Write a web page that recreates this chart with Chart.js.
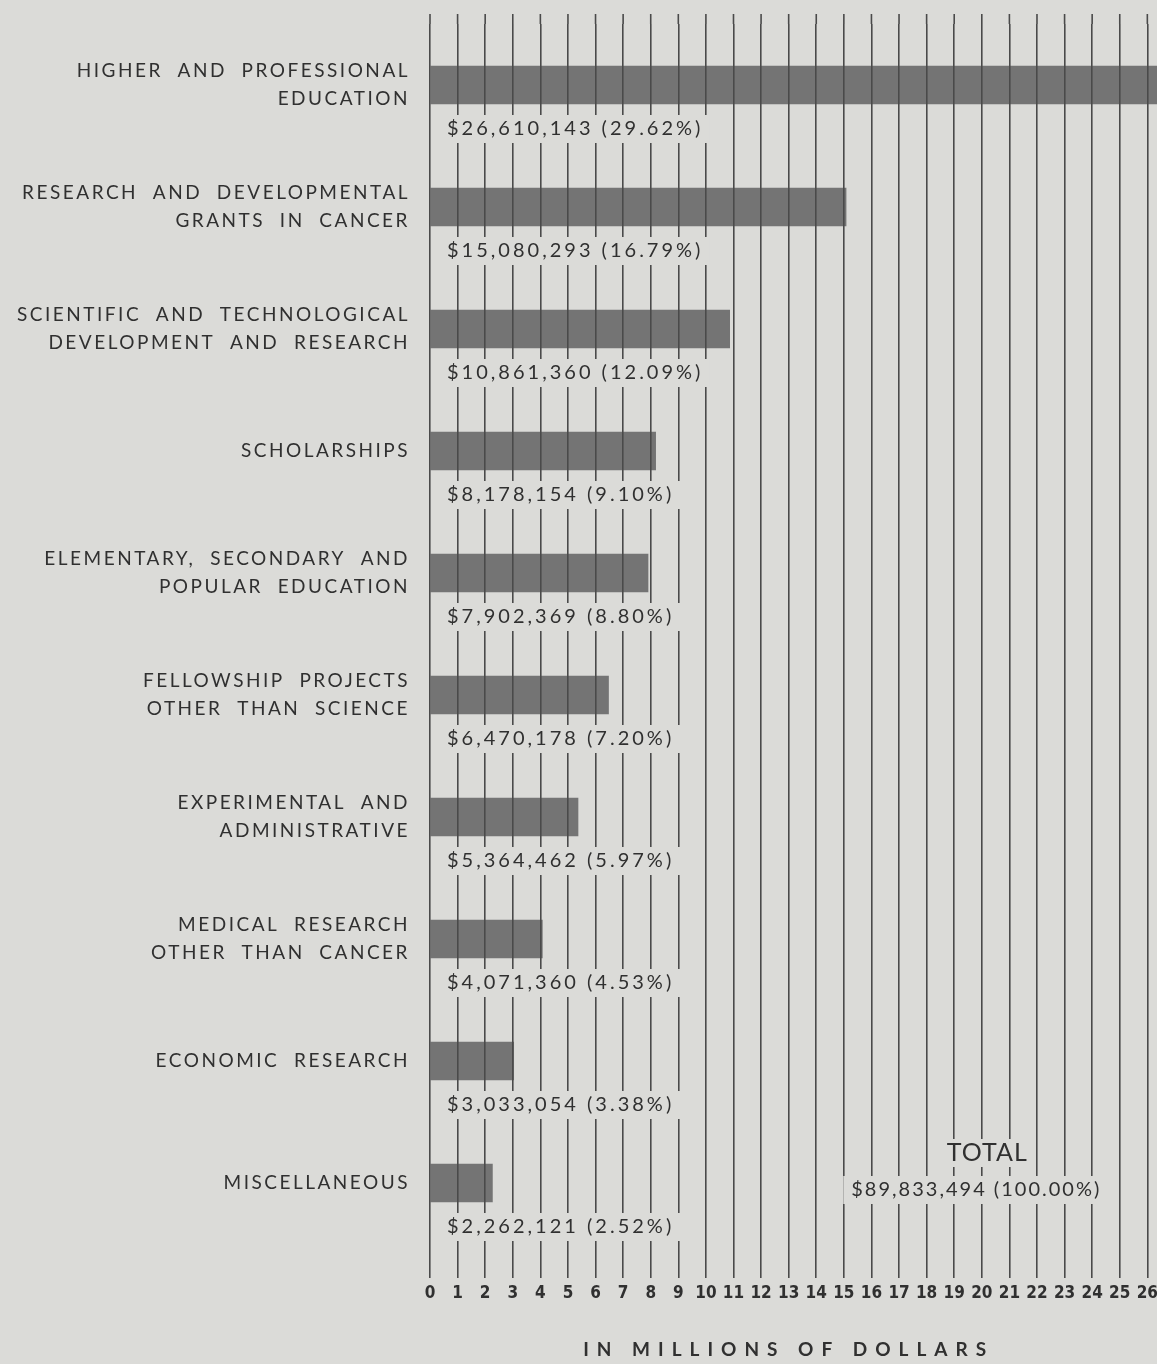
<!DOCTYPE html>
<html>
<head>
<meta charset="utf-8">
<script src="https://cdn.jsdelivr.net/npm/chart.js@4.4.1/dist/chart.umd.min.js"></script>
<style>
  html, body { margin: 0; padding: 0; background: #dadad7; }
  canvas { display: block; }
</style>
</head>
<body>
<canvas id="grantsChart" width="1157" height="1364"></canvas>
<script>
// grant amounts by field, dollars
const categories = [
    ["HIGHER  AND  PROFESSIONAL", "EDUCATION"],
    ["RESEARCH  AND  DEVELOPMENTAL", "GRANTS  IN  CANCER"],
    ["SCIENTIFIC  AND  TECHNOLOGICAL", "DEVELOPMENT  AND  RESEARCH"],
    ["SCHOLARSHIPS"],
    ["ELEMENTARY,  SECONDARY  AND", "POPULAR  EDUCATION"],
    ["FELLOWSHIP  PROJECTS", "OTHER  THAN  SCIENCE"],
    ["EXPERIMENTAL  AND", "ADMINISTRATIVE"],
    ["MEDICAL  RESEARCH", "OTHER  THAN  CANCER"],
    ["ECONOMIC  RESEARCH"],
    ["MISCELLANEOUS"]
];
const amounts = [26610143, 15080293, 10861360, 8178154, 7902369, 6470178, 5364462, 4071360, 3033054, 2262121];
const percents = [29.62, 16.79, 12.09, 9.10, 8.80, 7.20, 5.97, 4.53, 3.38, 2.52];
const totalPercent = 100.00;
const tickMax = 26;

const paper = "#dbdbd8";
const ink = "#303030";
const gridColor = "#4a4a4a";
const labelFont = "Lato, 'Open Sans', sans-serif";

const millions = amounts.map((v) => v / 1000000);
const total = amounts.reduce((a, b) => a + b, 0);

function money(v) {
    return "$" + v.toLocaleString("en-US");
}

function boxedText(ctx, text, x, y, align) {
    const w = ctx.measureText(text).width;
    const left = align === "center" ? x - w / 2 : x;
    ctx.fillStyle = paper;
    ctx.fillRect(left - 8, y - 14, w + 14, 28);
    ctx.fillStyle = ink;
    ctx.textAlign = align;
    ctx.textBaseline = "middle";
    ctx.fillText(text, x, y);
}

const paperPlugin = {
    id: "paper",
    beforeDraw(chart) {
        const ctx = chart.ctx;
        ctx.save();
        ctx.fillStyle = paper;
        ctx.fillRect(0, 0, chart.width, chart.height);
        ctx.restore();
        ctx.letterSpacing = "2.5px";
    },
    afterDatasetsDraw(chart) {
        const ctx = chart.ctx;
        const x = chart.scales.x;
        const top = chart.chartArea.top;
        // grid runs a little above the first bar
        ctx.save();
        ctx.strokeStyle = gridColor;
        ctx.lineWidth = 1.6;
        for (let i = 0; i <= tickMax; i++) {
            const px = x.getPixelForValue(i);
            ctx.beginPath();
            ctx.moveTo(px, top - 10);
            ctx.lineTo(px, top);
            ctx.stroke();
        }
        ctx.restore();
        ctx.letterSpacing = "0px";
    }
};

const labelsPlugin = {
    id: "valueLabels",
    afterDraw(chart) {
        const ctx = chart.ctx;
        const x = chart.scales.x;
        const y = chart.scales.y;
        const meta = chart.getDatasetMeta(0);
        ctx.save();
        ctx.letterSpacing = "3px";
        ctx.font = "20px " + labelFont;
        meta.data.forEach((bar, i) => {
            const text = money(amounts[i]) + " (" + percents[i].toFixed(2) + "%)";
            boxedText(ctx, text, x.getPixelForValue(0) + 17, bar.y + 44, "left");
        });

        const last = y.getPixelForValue(categories.length - 1);
        ctx.letterSpacing = "1px";
        ctx.font = "25px " + labelFont;
        boxedText(ctx, "TOTAL", x.getPixelForValue(20.2), last - 30, "center");
        ctx.letterSpacing = "2px";
        ctx.font = "20px " + labelFont;
        boxedText(ctx, money(total) + " (" + totalPercent.toFixed(2) + "%)", x.getPixelForValue(19.8), last + 7, "center");

        ctx.letterSpacing = "8px";
        ctx.font = "bold 19px " + labelFont;
        ctx.fillStyle = ink;
        ctx.textAlign = "center";
        ctx.textBaseline = "middle";
        ctx.fillText("IN MILLIONS OF DOLLARS", x.getPixelForValue(13), chart.height - 14);
        ctx.restore();
    }
};

new Chart(document.getElementById("grantsChart").getContext("2d"), {
    type: "bar",
    data: {
        labels: categories,
        datasets: [
            {
                data: millions,
                backgroundColor: "#747474",
                borderWidth: 0,
                barThickness: 38
            }
        ]
    },
    options: {
        indexAxis: "y",
        responsive: false,
        animation: false,
        devicePixelRatio: 1,
        layout: { padding: { top: 24, left: 0, right: 0, bottom: 0 } },
        plugins: {
            legend: { display: false },
            tooltip: { enabled: false }
        },
        scales: {
            x: {
                min: 0,
                max: 26.35,
                afterFit(scale) {
                    scale.height = 120;
                    scale.paddingLeft = 0;
                    scale.paddingRight = 0;
                },
                grid: {
                    z: 1,
                    color: gridColor,
                    lineWidth: 1.6,
                    drawTicks: true,
                    tickLength: 34,
                    tickColor: gridColor
                },
                border: { display: false },
                ticks: {
                    z: 1,
                    stepSize: 1,
                    includeBounds: false,
                    autoSkip: false,
                    maxRotation: 0,
                    padding: 5,
                    color: ink,
                    font: { family: "'Liberation Sans Narrow', 'DejaVu Sans Condensed', sans-serif", size: 17, weight: "bold" }
                }
            },
            y: {
                afterFit(scale) {
                    scale.width = 430;
                    scale.paddingTop = 0;
                    scale.paddingBottom = 0;
                },
                grid: { display: false, drawTicks: false },
                border: { display: false },
                ticks: {
                    padding: 20,
                    color: ink,
                    font: { family: labelFont, size: 19, lineHeight: 1.45 }
                }
            }
        }
    },
    plugins: [paperPlugin, labelsPlugin]
});
</script>
</body>
</html>
